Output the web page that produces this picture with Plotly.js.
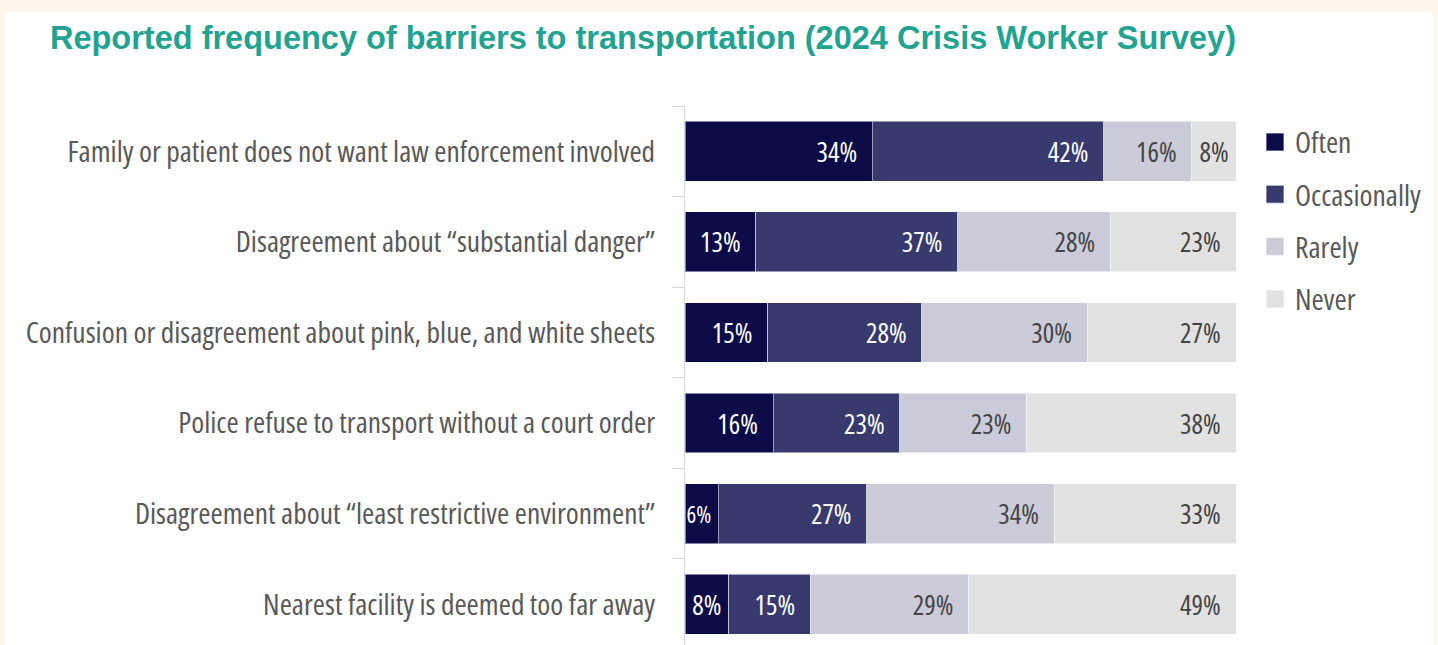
<!DOCTYPE html>
<html>
<head>
<meta charset="utf-8">
<script src="https://cdn.plot.ly/plotly-3.0.1.min.js"></script>
<style>
  html, body { margin: 0; padding: 0; background: #fdf6ed; width: 1438px; height: 645px; overflow: hidden; }
  #chart { position: absolute; left: 5px; top: 12px; width: 1428px; height: 633px; background: #ffffff; }
  #chart .ytick text, #chart .legendtext, #chart .bartext text, #chart text.bartext { font-stretch: 75% !important; }
</style>
</head>
<body>
<div id="chart"></div>
<script>
const categories = [
  "Family or patient does not want law enforcement involved",
  "Disagreement about \u201csubstantial danger\u201d",
  "Confusion or disagreement about pink, blue, and white sheets",
  "Police refuse to transport without a court order",
  "Disagreement about \u201cleast restrictive environment\u201d",
  "Nearest facility is deemed too far away"
];
const seriesNames = ["Often", "Occasionally", "Rarely", "Never"];
const often        = [34, 13, 15, 16, 6, 8];
const occasionally = [42, 37, 28, 23, 27, 15];
const rarely       = [16, 28, 30, 23, 34, 29];
const never        = [8, 23, 27, 38, 33, 49];

const series = [often, occasionally, rarely, never];
const colors = ["#0b0b48", "#383a6e", "#cbcbda", "#e2e2e2"];
const textColors = ["#ffffff", "#ffffff", "#444444", "#444444"];
const rowTotals = categories.map((_, i) => series.reduce((s, arr) => s + arr[i], 0));

const labelFont = "Open Sans, sans-serif";

const traces = series.map((vals, k) => ({
  type: "bar",
  orientation: "h",
  name: seriesNames[k],
  legendgroup: seriesNames[k],
  y: categories,
  x: vals.map((v, i) => v / rowTotals[i] * 100),
  text: vals.map(v => v + "%" + (v < 10 ? "" : "\u00A0")),
  textposition: "inside",
  insidetextanchor: "end",
  textangle: 0,
  constraintext: "none",
  cliponaxis: false,
  textfont: { family: labelFont, size: vals.map(v => v < 7 ? 23 : 27), color: textColors[k] },
  marker: { color: colors[k], line: { color: "rgba(255,255,255,0.5)", width: 1 } },
  hoverinfo: "skip"
}));

const layout = {
  width: 1428,
  height: 633,
  paper_bgcolor: "#ffffff",
  plot_bgcolor: "#ffffff",
  barmode: "stack",
  bargap: 0.34,
  margin: { l: 680, r: 197, t: 93.6, b: 0, pad: 0, autoexpand: false },
  title: {
    text: "<b>Reported frequency of barriers to transportation (2024 Crisis Worker Survey)</b>",
    font: { family: "Liberation Sans, Arial, sans-serif", size: 32.5, color: "#22a392" },
    x: 0.0315, xanchor: "left", xref: "container",
    y: 0.959, yanchor: "middle", yref: "container"
  },
  xaxis: { visible: false, range: [0, 100], fixedrange: true },
  yaxis: {
    type: "category",
    range: [5.45, -0.5],
    showline: true,
    linecolor: "#d9d9d9",
    linewidth: 1,
    ticks: "outside",
    tickson: "boundaries",
    ticklen: 12,
    tickcolor: "#d9d9d9",
    tickwidth: 1,
    ticklabelstandoff: 23,
    showgrid: false,
    zeroline: false,
    tickfont: { family: labelFont, size: 29.5, color: "#595959" },
    fixedrange: true
  },
  showlegend: true,
  legend: {
    x: 1.0345, xanchor: "left",
    y: 0.981, yanchor: "top",
    traceorder: "grouped",
    tracegroupgap: 11,
    font: { family: labelFont, size: 29.5, color: "#595959" },
    bgcolor: "rgba(0,0,0,0)"
  }
};

Plotly.newPlot("chart", traces, layout, { displayModeBar: false, staticPlot: true }).then(gd => {
  gd.querySelectorAll(".legendpoints path").forEach(p => {
    const t = p.getAttribute("transform") || "";
    p.setAttribute("transform", t + " scale(1.5)");
  });
});
</script>
</body>
</html>
